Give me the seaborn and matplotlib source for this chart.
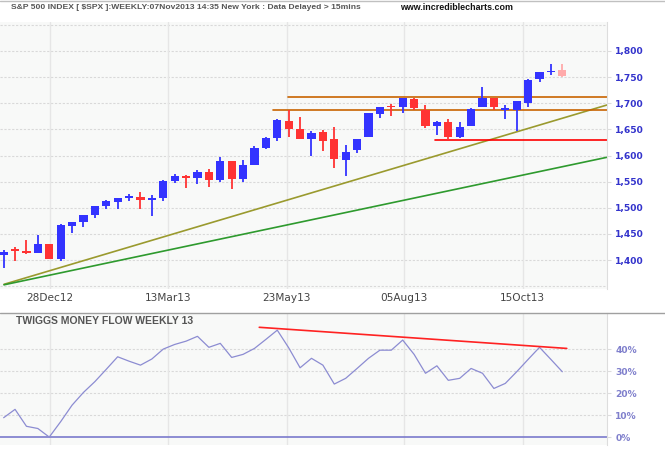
import matplotlib
matplotlib.use("Agg")
import matplotlib.pyplot as plt
import matplotlib.font_manager as fm
import seaborn as sns
from matplotlib.lines import Line2D

# ---------------- data ----------------
week = list(range(50))
opens = [1410, 1420, 1418, 1414, 1430, 1402, 1466, 1472, 1486, 1504,
         1511, 1519, 1520, 1515, 1519, 1551, 1561, 1557, 1569, 1553,
         1589, 1555, 1582, 1614, 1633, 1666, 1650, 1631, 1645, 1631,
         1591, 1611, 1636, 1680, 1694, 1692, 1708, 1688, 1657, 1664,
         1635, 1657, 1693, 1711, 1687, 1687, 1701, 1747, 1759, 1764]
highs = [1419, 1424, 1439, 1448, 1431, 1468, 1473, 1486, 1504, 1514,
         1519, 1526, 1530, 1525, 1553, 1564, 1562, 1572, 1574, 1597,
         1589, 1592, 1618, 1636, 1670, 1687, 1674, 1646, 1648, 1654,
         1620, 1632, 1681, 1693, 1699, 1711, 1711, 1697, 1666, 1670,
         1665, 1690, 1732, 1711, 1697, 1704, 1746, 1760, 1776, 1776]
lows = [1385, 1399, 1412, 1414, 1402, 1399, 1452, 1464, 1481, 1497,
        1497, 1513, 1498, 1485, 1513, 1548, 1538, 1546, 1540, 1550,
        1536, 1549, 1582, 1613, 1627, 1635, 1631, 1599, 1609, 1577,
        1560, 1605, 1636, 1672, 1676, 1682, 1688, 1653, 1639, 1630,
        1633, 1657, 1693, 1687, 1670, 1647, 1693, 1741, 1754, 1750]
closes = [1415, 1418, 1414, 1430, 1402, 1467, 1472, 1486, 1503, 1513,
          1518, 1521, 1515, 1518, 1551, 1561, 1557, 1569, 1553, 1589,
          1555, 1582, 1614, 1633, 1667, 1650, 1631, 1643, 1628, 1594,
          1607, 1632, 1681, 1693, 1692, 1711, 1691, 1657, 1664, 1635,
          1654, 1689, 1711, 1693, 1691, 1704, 1744, 1760, 1761, 1753]
money_flow = [8.8, 12.6, 4.9, 3.9, 0.0, 7.0, 14.5, 20.3, 25.2, 30.8,
              36.5, 34.5, 32.7, 35.5, 40.0, 42.1, 43.6, 45.8, 40.8, 42.6,
              36.2, 37.6, 40.3, 44.4, 48.6, 40.6, 31.5, 35.8, 32.7, 24.1,
              26.7, 31.2, 35.8, 39.5, 39.5, 44.1, 37.6, 29.0, 32.4, 25.8,
              26.7, 31.2, 29.0, 22.1, 24.4, 29.7, 35.3, 40.8, 35.3, 29.7]

date_labels = ["28Dec12", "13Mar13", "23May13", "05Aug13", "15Oct13"]
date_pos = [4.09, 14.44, 24.82, 35.14, 45.53]
price_ticks = [1400, 1450, 1500, 1550, 1600, 1650, 1700, 1750, 1800]
price_grid = [1350, 1400, 1450, 1500, 1550, 1600, 1650, 1700, 1750, 1800, 1850]
mf_ticks = [0, 10, 20, 30, 40]

# trend / level lines (x in weeks, y in index points / percent)
olive_x, olive_y = [0.03, 52.92], [1353.5, 1696.7]
green_x, green_y = [0.03, 52.92], [1352.5, 1596.6]
res_hi_x, res_hi_y = [24.97, 52.92], [1711.4, 1711.4]
res_lo_x, res_lo_y = [23.62, 52.92], [1686.5, 1686.5]
sup_x, sup_y = [37.83, 52.92], [1629.0, 1629.0]
mft_x, mft_y = [22.42, 49.39], [49.9, 40.3]

header = "S&P 500 INDEX [ $SPX ]:WEEKLY:07Nov2013 14:35 New York : Data Delayed > 15mins"
site = "www.incrediblecharts.com"
panel_title = "TWIGGS MONEY FLOW WEEKLY 13"

# ---------------- style ----------------
sns.set_style("white")
plt.rcParams["font.family"] = ["DejaVu Sans"]

W, H = 665, 450
fig = plt.figure(figsize=(W / 100, H / 100), dpi=100)
fig.patch.set_facecolor("white")

def px_rect(x0, y0, x1, y1):
    return [x0 / W, 1 - y1 / H, (x1 - x0) / W, (y1 - y0) / H]

BG = "#f8f9f8"
ax = fig.add_axes(px_rect(0, 22, 607, 289))
ax2 = fig.add_axes(px_rect(0, 313, 607, 445))
for a in (ax, ax2):
    a.set_facecolor(BG)
    for s in ("top", "left", "bottom"):
        a.spines[s].set_visible(False)
    a.spines["right"].set_color("#dddddd")
    a.spines["right"].set_linewidth(0.8)

X0, X1 = -0.32, 52.92

# ---- main price panel ----
ax.set_xlim(X0, X1)
ax.set_ylim(1344.5, 1855.5)
for g in price_grid:
    ax.axhline(g, color="#d9d9d9", lw=0.8, ls=(0, (2, 1.5)), zorder=0)
for p in date_pos:
    ax.axvline(p, color="#e6e6e6", lw=1.0, zorder=0)

BLUE, RED, PINK = "#3333ff", "#ff3333", "#ffaaaa"
colors = []
for i, (o, c) in enumerate(zip(opens, closes)):
    if i == len(opens) - 1:
        colors.append(PINK)
    elif c >= o:
        colors.append(BLUE)
    else:
        colors.append(RED)

ax.vlines(week, lows, highs, colors=colors, lw=1.3, zorder=3)
bottoms = [min(o, c) for o, c in zip(opens, closes)]
heights = [max(abs(c - o), 2.8) for o, c in zip(opens, closes)]
ax.bar(week, heights, bottom=bottoms, width=0.72, color=colors, linewidth=0, zorder=4)

sns.lineplot(x=olive_x, y=olive_y, ax=ax, color="#9a9a2e", lw=1.2, zorder=2)
sns.lineplot(x=green_x, y=green_y, ax=ax, color="#2e9a2e", lw=1.2, zorder=2)
sns.lineplot(x=res_hi_x, y=res_hi_y, ax=ax, color="#c86400", lw=1.2, zorder=2)
sns.lineplot(x=res_lo_x, y=res_lo_y, ax=ax, color="#c86400", lw=1.2, zorder=2)
sns.lineplot(x=sup_x, y=sup_y, ax=ax, color="#ff0000", lw=1.2, zorder=2)

ax.yaxis.tick_right()
ax.set_yticks(price_ticks)
ax.set_yticklabels([f"{v:,}" for v in price_ticks])
ax.tick_params(axis="y", length=3, color="#dddddd", pad=3, labelsize=6.6,
               labelcolor="#3333cc")
for t in ax.get_yticklabels():
    t.set_fontweight("bold")
ax.set_xticks(date_pos)
ax.set_xticklabels(date_labels)
ax.tick_params(axis="x", length=0, pad=3, labelsize=7.6, labelcolor="#444444")
ax.set_xlabel("")
ax.set_ylabel("")

# ---- money flow panel ----
ax2.set_xlim(X0, X1)
ax2.set_ylim(-3.6, 56.4)
for g in [10, 20, 30, 40]:
    ax2.axhline(g, color="#d9d9d9", lw=0.8, ls=(0, (2, 1.5)), zorder=0)
for p in date_pos:
    ax2.axvline(p, color="#e6e6e6", lw=1.0, zorder=0)
ax2.axhline(0, color="#7a7acc", lw=1.2, zorder=1)
sns.lineplot(x=week, y=money_flow, ax=ax2, color="#8c8cd2", lw=0.9, zorder=3)
sns.lineplot(x=mft_x, y=mft_y, ax=ax2, color="#ff2222", lw=1.2, zorder=4)
ax2.yaxis.tick_right()
ax2.set_yticks(mf_ticks)
ax2.set_yticklabels([f"{v}%" for v in mf_ticks])
ax2.tick_params(axis="y", length=3, color="#dddddd", pad=3, labelsize=6.6,
                labelcolor="#7f7fcc")
for t in ax2.get_yticklabels():
    t.set_fontweight("bold")
ax2.set_xticks([])
ax2.set_xlabel("")
ax2.set_ylabel("")

# ---- texts ----
avail = {f.name for f in fm.fontManager.ttflist}
narrow = ["Liberation Sans Narrow"] if "Liberation Sans Narrow" in avail else []
hfam = narrow + ["Liberation Sans", "DejaVu Sans"]

t_head = fig.text(11 / W, 1 - 7.5 / H, header, ha="left", va="center",
                  fontsize=8, fontweight="bold", color="#555555", family=hfam)
t_site = fig.text(400 / W, 1 - 7.5 / H, site, ha="left", va="center",
                  fontsize=8, fontweight="bold", color="#111111", family=hfam)
t_title = fig.text(15.7 / W, 1 - 321 / H, panel_title, ha="left", va="center",
                   fontsize=7.5, fontweight="bold", color="#555555",
                   family=["Liberation Sans", "DejaVu Sans"])

fig.canvas.draw()
r = fig.canvas.get_renderer()
for t, target in ((t_head, 347), (t_site, 112), (t_title, 177)):
    w = t.get_window_extent(r).width
    t.set_fontsize(t.get_fontsize() * target / w)

fig.add_artist(Line2D([0, 1], [1 - 313 / H, 1 - 313 / H], color="#a0a0a0", lw=1.0))
fig.add_artist(Line2D([0, 1], [1 - 0.5 / H, 1 - 0.5 / H], color="#c0c0c0", lw=1.0))

fig.savefig("out.png", dpi=100, facecolor="white")
